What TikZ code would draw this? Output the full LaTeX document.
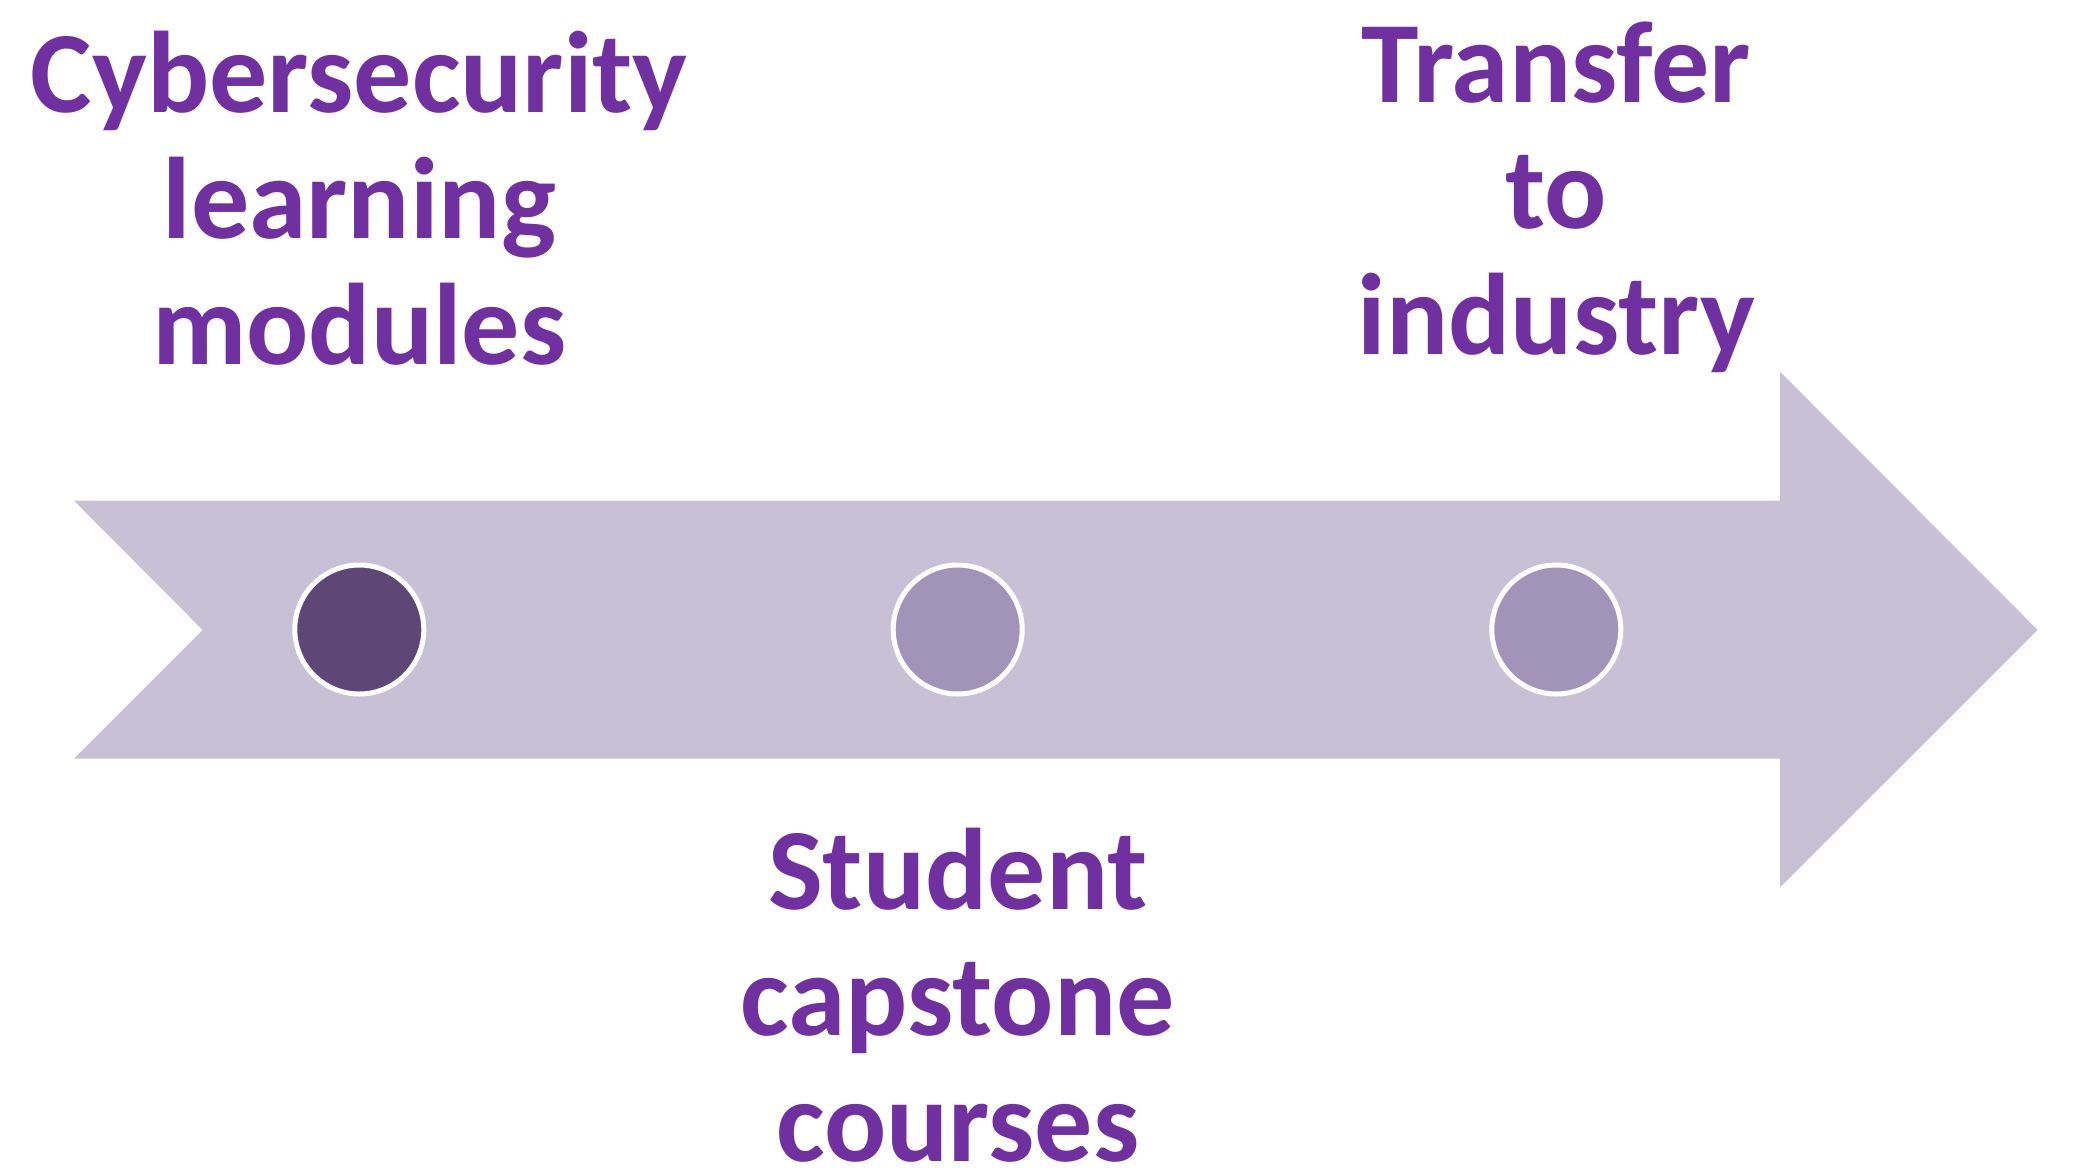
\documentclass[tikz,border=0pt]{standalone}
\usepackage{fontspec}
\setmainfont{Carlito}
\definecolor{arrowfill}{HTML}{C8C1D6}
\definecolor{darkdot}{HTML}{5E4776}
\definecolor{lightdot}{HTML}{A294B9}
\definecolor{labelpurple}{HTML}{7030A0}
\begin{document}
\begin{tikzpicture}[x=1pt,y=-1pt,
  dot/.style={circle,draw=white,line width=5pt,inner sep=0pt,minimum size=129pt},
  label/.style={align=center,text=labelpurple,inner sep=0pt,anchor=base,
    font=\fontsize{116}{126}\selectfont\bfseries}]
\useasboundingbox (0,0) rectangle (2079,1170);
% arrow body
\fill[arrowfill] (74,500.7) -- (202.7,630) -- (74,758.7) -- (1780,758.7)
  -- (1780,887.3) -- (2037.7,630) -- (1780,371.7) -- (1780,500.7) -- cycle;
% dots
\node[dot,fill=darkdot] (c1) at (359.3,629.5) {};
\node[dot,fill=lightdot] (c2) at (957.7,629.5) {};
\node[dot,fill=lightdot] (c3) at (1556.3,629.5) {};
% labels (anchor at the baseline of the last line)
\node[label] (t1) at (359.3,364.3) {Cybersecurity\\learning\\modules};
\node[label] (t2) at (957.7,1161) {Student\\capstone\\courses};
\node[label] (t3) at (1556.3,354) {Transfer\\to\\industry};
\end{tikzpicture}
\end{document}
